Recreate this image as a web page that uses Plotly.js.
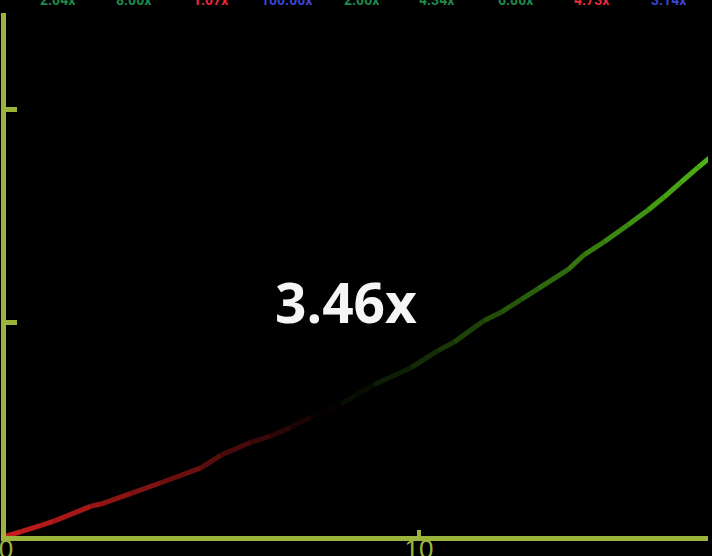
<!DOCTYPE html>
<html>
<head>
<meta charset="utf-8">
<script src="https://cdn.plot.ly/plotly-3.0.1.min.js"></script>
<style>
  html, body { margin: 0; padding: 0; background: #000; }
  #myDiv { width: 712px; height: 556px; }
</style>
</head>
<body>
<div id="myDiv"></div>
<script>
// elapsed time (s) and multiplier
var time = [0, 0.36, 0.85, 1.16, 2.06, 2.30, 3.03, 3.75, 4.72, 5.21, 5.93, 6.42,
	6.90, 7.39, 8.11, 8.91, 9.81, 10.46, 10.85, 11.57, 11.99, 12.47, 12.88,
	13.61, 14.00, 14.48, 15.06, 15.55, 15.93, 16.34, 16.76, 17.07];
var multiplier = [1.00, 1.02, 1.05, 1.07, 1.14, 1.15, 1.20, 1.25, 1.32, 1.38, 1.44, 1.47,
	1.51, 1.56, 1.62, 1.71, 1.79, 1.87, 1.91, 2.01, 2.05, 2.11, 2.16,
	2.25, 2.32, 2.38, 2.46, 2.53, 2.59, 2.66, 2.73, 2.78];

var current = '3.46x';

// previous rounds shown along the top
var pastRounds = ['2.04x', '8.00x', '1.07x', '100.00x', '2.00x', '4.34x', '6.00x', '4.73x', '3.14x'];
var pastColors = ['#1c8a4c', '#1c8a4c', '#e8283c', '#3b45d6', '#1c8a4c', '#1c8a4c', '#1c8a4c', '#e8283c', '#3b45d6'];

var axisColor = '#9bb53c';
var xMax = 17;

// red fades to black, then to green along the run
function segColor(f) {
	var r, g, b, k;
	if (f < 0.46) {
		k = Math.pow(1 - f / 0.46, 0.8);
		r = 200 * k; g = 28 * k; b = 28 * k;
	} else {
		k = (f - 0.46) / 0.54;
		r = 78 * k; g = 180 * k; b = 22 * k;
	}
	return 'rgb(' + Math.round(r) + ',' + Math.round(g) + ',' + Math.round(b) + ')';
}

var data = [];
for (var i = 0; i < time.length - 1; i++) {
	var mid = (time[i] + time[i + 1]) / 2;
	data.push({
		type: 'scatter',
		mode: 'lines',
		x: [time[i], time[i + 1]],
		y: [multiplier[i], multiplier[i + 1]],
		line: {color: segColor(mid / xMax), width: 5},
		hoverinfo: 'skip',
		showlegend: false
	});
}

var pastX = [57, 133, 210, 286, 362, 437, 516, 592, 669];
var annotations = pastRounds.map(function (t, i) {
	return {
		text: '<b>' + t + '</b>',
		xref: 'paper', yref: 'paper',
		x: (pastX[i] - 5) / 703, y: 1.025,
		xanchor: 'center', yanchor: 'middle',
		showarrow: false,
		font: {family: 'Roboto', size: 14, color: pastColors[i]}
	};
});
annotations.push({
	text: '<b>' + current + '</b>',
	xref: 'paper', yref: 'paper',
	x: 0.485, y: 0.449,
	xanchor: 'center', yanchor: 'middle',
	showarrow: false,
	font: {family: 'Open Sans', size: 55, color: '#f5f5f5'}
});

var layout = {
	width: 712,
	height: 556,
	margin: {l: 6, r: 4, t: 13, b: 20},
	paper_bgcolor: '#000',
	plot_bgcolor: '#000',
	showlegend: false,
	xaxis: {
		range: [0, xMax],
		dtick: 10,
		ticks: 'inside',
		ticklen: 6,
		tickwidth: 4,
		tickcolor: axisColor,
		showline: true,
		linecolor: axisColor,
		linewidth: 5,
		showgrid: false,
		zeroline: false,
		ticklabelstandoff: -14,
		ticklabeloverflow: 'allow',
		tickfont: {family: 'Liberation Sans', size: 26, color: axisColor}
	},
	yaxis: {
		range: [1, 3.455],
		tickvals: [2, 3],
		ticks: 'inside',
		ticklen: 11,
		tickwidth: 5,
		tickcolor: axisColor,
		showline: true,
		linecolor: axisColor,
		linewidth: 5,
		showgrid: false,
		zeroline: false,
		showticklabels: false
	},
	annotations: annotations
};

Plotly.newPlot('myDiv', data, layout, {staticPlot: true, displayModeBar: false});
</script>
</body>
</html>
